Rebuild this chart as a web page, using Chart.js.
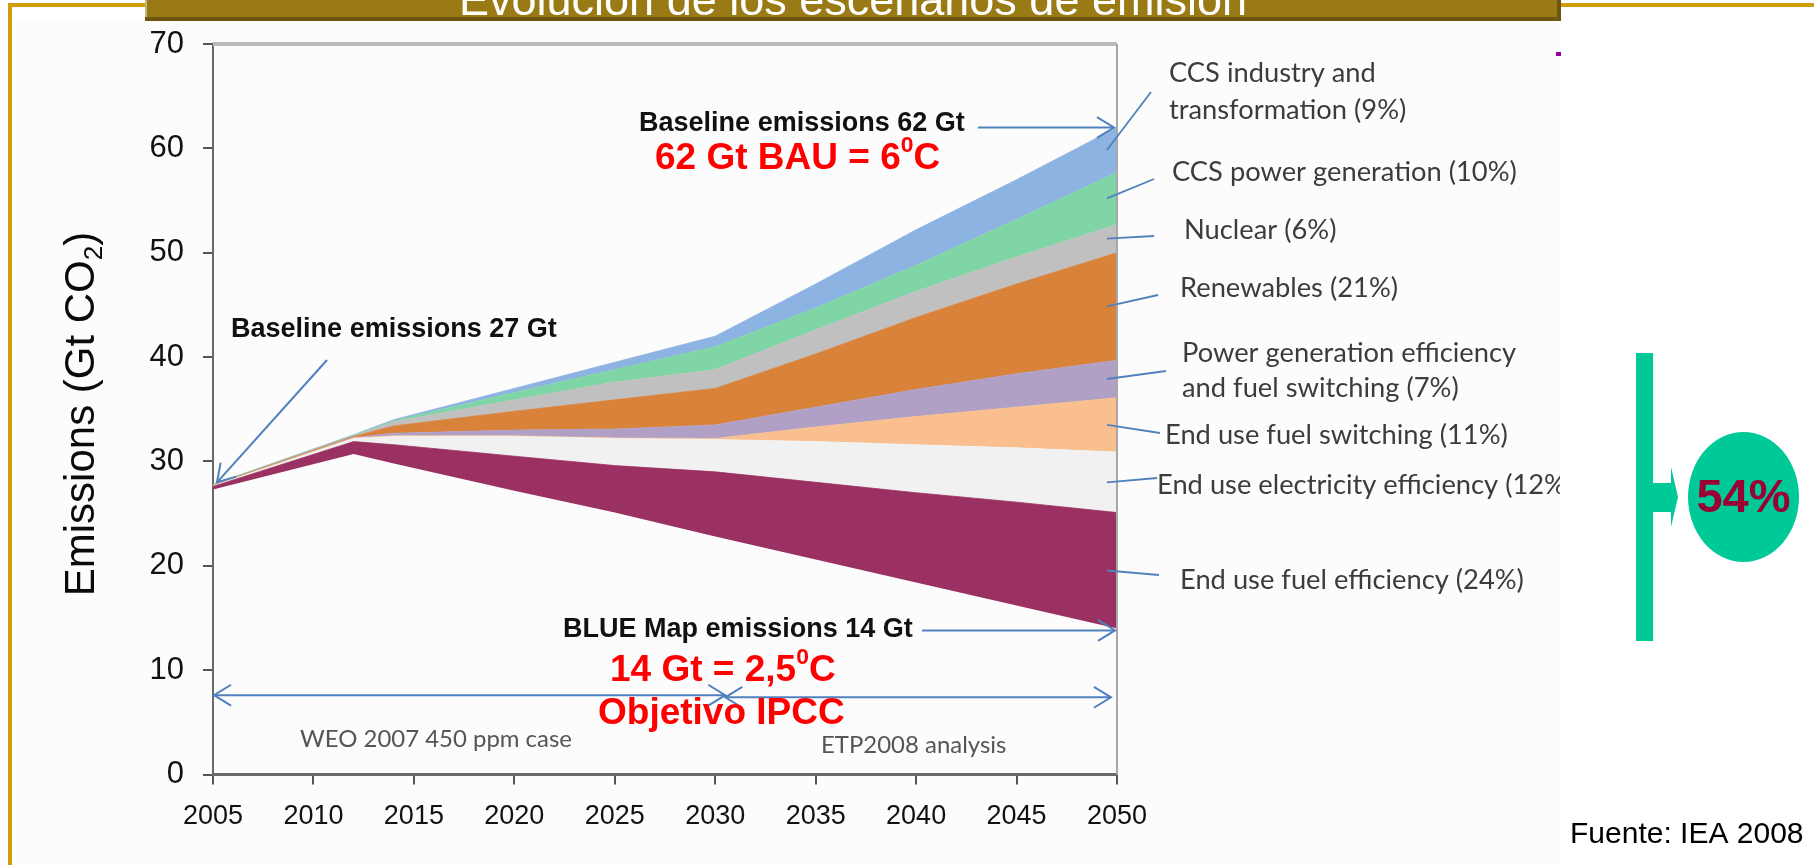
<!DOCTYPE html>
<html>
<head>
<meta charset="utf-8">
<title>Evolución de los escenarios de emisión</title>
<script src="https://cdn.jsdelivr.net/npm/chart.js@4.4.1/dist/chart.umd.min.js"></script>
<style>
  html, body { margin: 0; padding: 0; background: #fff; }
  #wrap { position: relative; width: 1814px; height: 865px; }
</style>
</head>
<body>
<div id="wrap"><canvas id="chart" width="1814" height="865"></canvas></div>
<script>
// Years and the upper edge of each wedge (Gt CO2)
const years       = [2005, 2012, 2014, 2020, 2025, 2030, 2035, 2040, 2045, 2050];
const blueMap     = [27.3, 30.7, 29.8, 27.2, 25.1, 22.8, 20.6, 18.4, 16.2, 14.0];
const fuelEff     = [27.6, 31.9, 31.6, 30.5, 29.6, 29.0, 28.0, 27.0, 26.1, 25.1];
const elecEff     = [27.65, 32.2, 32.4, 32.4, 32.2, 32.1, 31.9, 31.6, 31.3, 30.9];
const fuelSwitch  = [27.7, 32.25, 32.45, 32.45, 32.25, 32.2, 33.3, 34.3, 35.2, 36.1];
const powerEff    = [27.7, 32.3, 32.7, 33.0, 33.1, 33.5, 35.2, 36.9, 38.4, 39.7];
const renewables  = [27.75, 32.4, 33.4, 34.8, 35.9, 37.0, 40.3, 43.8, 47.0, 50.0];
const nuclear     = [27.75, 32.45, 33.8, 35.9, 37.6, 38.8, 42.6, 46.3, 49.6, 52.7];
const ccsPower    = [27.8, 32.5, 33.9, 36.6, 38.8, 41.0, 44.7, 48.8, 53.2, 57.7];
const ccsIndustry = [27.8, 32.55, 34.0, 37.0, 39.5, 42.0, 47.0, 52.2, 57.0, 62.0];

const xTicks = [2005, 2010, 2015, 2020, 2025, 2030, 2035, 2040, 2045, 2050];
const yTicks = [0, 10, 20, 30, 40, 50, 60, 70];

const bandNames = ['BLUE Map', 'End use fuel efficiency', 'End use electricity efficiency',
  'End use fuel switching', 'Power generation efficiency and fuel switching', 'Renewables',
  'Nuclear', 'CCS power generation', 'CCS industry and transformation'];
const bandColors = [null, '#9a3162', '#f1f1f1', '#f9bf8e', '#b1a0c6', '#d9823a',
  '#c0c0c0', '#80d5a7', '#8db3e2'];
const bounds = [blueMap, fuelEff, elecEff, fuelSwitch, powerEff, renewables, nuclear, ccsPower, ccsIndustry];

// right-hand wedge labels (top to bottom, same order as the leader lines)
const wedgeLabels = [
  ['CCS industry and', 'transformation (9%)'],
  ['CCS power generation (10%)'],
  ['Nuclear (6%)'],
  ['Renewables (21%)'],
  ['Power generation efficiency', 'and fuel switching (7%)'],
  ['End use fuel switching (11%)'],
  ['End use electricity efficiency (12%)'],
  ['End use fuel efficiency (24%)']
];

const SANS = '"Liberation Sans", Arial, sans-serif';
const CALI = 'Lato, "Open Sans", sans-serif';
const ARROW = '#4f81bd';

function line(ctx, x1, y1, x2, y2) {
  ctx.beginPath();
  ctx.moveTo(x1, y1);
  ctx.lineTo(x2, y2);
  ctx.stroke();
}

// open "V" head at (x, y) for a shaft coming from (fx, fy)
function head(ctx, x, y, fx, fy, len = 16) {
  const a = Math.atan2(y - fy, x - fx);
  ctx.beginPath();
  ctx.moveTo(x - len * Math.cos(a - 0.55), y - len * Math.sin(a - 0.55));
  ctx.lineTo(x, y);
  ctx.lineTo(x - len * Math.cos(a + 0.55), y - len * Math.sin(a + 0.55));
  ctx.stroke();
}

function fitSize(ctx, text, weight, family, width) {
  ctx.font = `${weight} 100px ${family}`;
  return 100 * width / ctx.measureText(text).width;
}

// text with super/subscript pieces: parts = [[text, 'sup'|'sub'|undefined], ...]
function richWidth(ctx, parts, size, weight, family) {
  let w = 0;
  parts.forEach(([t, kind]) => {
    ctx.font = `${weight} ${kind ? size * 0.62 : size}px ${family}`;
    w += ctx.measureText(t).width;
  });
  return w;
}

function richText(ctx, parts, x, y, size, weight, family) {
  let cx = x;
  parts.forEach(([t, kind]) => {
    const s = kind ? size * 0.62 : size;
    const dy = kind === 'sup' ? -size * 0.36 : kind === 'sub' ? size * 0.2 : 0;
    ctx.font = `${weight} ${s}px ${family}`;
    ctx.fillText(t, cx, y + dy);
    cx += ctx.measureText(t).width;
  });
}

const decorations = {
  id: 'decorations',
  beforeDraw(chart) {
    const ctx = chart.ctx;
    ctx.save();
    ctx.fillStyle = '#ffffff';
    ctx.fillRect(0, 0, chart.width, chart.height);
    ctx.fillStyle = '#fcfcfc';
    ctx.fillRect(12, 21, 1549, 844);
    ctx.restore();
  },
  afterDraw(chart) {
    const {ctx, chartArea: a, scales: {x, y}} = chart;
    ctx.save();

    // plot frame (top and right)
    ctx.strokeStyle = '#bababa';
    ctx.lineWidth = 4;
    line(ctx, a.left, a.top, a.right, a.top);
    ctx.strokeStyle = '#a8a8a8';
    ctx.lineWidth = 2;
    line(ctx, a.right, a.top, a.right, a.bottom);

    // y axis title
    ctx.save();
    ctx.translate(94, 414);
    ctx.rotate(-Math.PI / 2);
    ctx.fillStyle = '#0a0a0a';
    ctx.textBaseline = 'alphabetic';
    const tParts = [['Emissions (Gt CO'], ['2', 'sub'], [')']];
    const tSize = 42;
    const tw = richWidth(ctx, tParts, tSize, 'normal', SANS);
    richText(ctx, tParts, -tw / 2, 0, tSize, 'normal', SANS);
    ctx.restore();

    // arrows
    ctx.strokeStyle = ARROW;
    ctx.lineWidth = 2;
    const x05 = x.getPixelForValue(2005), x50 = x.getPixelForValue(2050);
    // baseline 27 Gt
    const tip27 = [x05 + 4, y.getPixelForValue(28)];
    line(ctx, 327, 360, tip27[0], tip27[1]);
    head(ctx, tip27[0], tip27[1], 327, 360, 20);
    // baseline 62 Gt
    const y62 = y.getPixelForValue(62);
    line(ctx, 978, y62, x50 - 3, y62);
    head(ctx, x50 - 3, y62, 978, y62, 20);
    // BLUE Map 14 Gt
    const y14 = y.getPixelForValue(14);
    line(ctx, 922, y14 + 2, x50 - 2, y14 + 2);
    head(ctx, x50 - 2, y14 + 2, 922, y14 + 2, 20);
    // WEO / ETP ranges
    const yR1 = y.getPixelForValue(7.6), yR2 = y.getPixelForValue(7.4);
    const xMid = x.getPixelForValue(2030.5), xEnd = x.getPixelForValue(2049.7);
    line(ctx, x05 + 1, yR1, xMid, yR1);
    head(ctx, x05 + 1, yR1, xMid, yR1, 20);
    head(ctx, xMid, yR1, x05, yR1, 20);
    line(ctx, xMid, yR2, xEnd, yR2);
    head(ctx, xMid, yR2, xEnd, yR2, 20);
    head(ctx, xEnd, yR2, xMid, yR2, 20);

    // leader lines from the wedges at 2050 to their labels
    const outer = [[1151, 92], [1154, 179], [1154, 236], [1158, 295], [1166, 371], [1160, 433], [1157, 478], [1159, 575]];
    const last = years.length - 1;
    const xIn = x.getPixelForValue(2049.5);
    ctx.lineWidth = 1.8;
    for (let i = 0; i < 8; i++) {
      const hi = bounds[8 - i][last], lo = bounds[7 - i][last];
      const yIn = y.getPixelForValue((hi + lo) / 2);
      line(ctx, xIn, yIn, outer[i][0], outer[i][1]);
    }

    // wedge labels (clipped at the picture edge)
    ctx.save();
    ctx.beginPath();
    ctx.rect(0, 0, 1560, chart.height);
    ctx.clip();
    const lSize = Math.min(31, fitSize(ctx, 'CCS power generation (10%)', 'normal', CALI, 345));
    ctx.font = `normal ${lSize}px ${CALI}`;
    ctx.fillStyle = '#3c3c3c';
    ctx.textBaseline = 'middle';
    ctx.textAlign = 'left';
    const lPos = [[1169, 73, 110], [1172, 172], [1184, 230], [1180, 288], [1182, 353, 388],
      [1165, 435], [1157, 485], [1180, 580]];
    wedgeLabels.forEach((rows, i) => {
      rows.forEach((r, k) => ctx.fillText(r, lPos[i][0], lPos[i][1 + k]));
    });
    ctx.restore();

    // black bold annotations
    const bSize = fitSize(ctx, 'Baseline emissions 62 Gt', 'bold', SANS, 326);
    ctx.font = `bold ${bSize}px ${SANS}`;
    ctx.fillStyle = '#111';
    ctx.textBaseline = 'middle';
    ctx.textAlign = 'left';
    ctx.fillText('Baseline emissions 27 Gt', 231, 330);
    ctx.fillText('Baseline emissions 62 Gt', 639, 124);
    ctx.fillText('BLUE Map emissions 14 Gt', 563, 630);

    // red annotations
    ctx.fillStyle = '#ff0000';
    const rSize = 37;
    richText(ctx, [['62 Gt BAU = 6'], ['0', 'sup'], ['C']], 655, 159, rSize, 'bold', SANS);
    richText(ctx, [['14 Gt = 2,5'], ['0', 'sup'], ['C']], 610, 671, rSize, 'bold', SANS);
    richText(ctx, [['Objetivo IPCC']], 598, 714, rSize, 'bold', SANS);

    // scenario names
    ctx.fillStyle = '#555';
    const gSize = fitSize(ctx, 'WEO 2007 450 ppm case', 'normal', CALI, 272);
    ctx.font = `normal ${gSize}px ${CALI}`;
    ctx.fillText('WEO 2007 450 ppm case', 300, 739);
    ctx.fillText('ETP2008 analysis', 821, 745);

    // 54 % bracket
    ctx.fillStyle = '#00c998';
    ctx.fillRect(1636, 353, 17, 288);
    ctx.fillRect(1652, 483, 20, 29);
    ctx.beginPath();
    ctx.moveTo(1671, 467);
    ctx.lineTo(1678, 497);
    ctx.lineTo(1671, 527);
    ctx.closePath();
    ctx.fill();
    ctx.beginPath();
    ctx.ellipse(1743.5, 497, 55.5, 65, 0, 0, Math.PI * 2);
    ctx.fill();
    ctx.fillStyle = '#990033';
    ctx.textAlign = 'center';
    ctx.font = `bold 47px ${SANS}`;
    ctx.fillText('54%', 1743.5, 499);

    // source
    ctx.fillStyle = '#000';
    ctx.textAlign = 'left';
    ctx.font = `normal 30px ${SANS}`;
    ctx.fillText('Fuente: IEA 2008', 1570, 835);

    // slide frame and title bar
    ctx.fillStyle = '#d09d0b';
    ctx.fillRect(8, 3, chart.width - 8, 4);
    ctx.fillRect(8, 3, 4, chart.height - 3);
    ctx.fillStyle = '#9a7a15';
    ctx.fillRect(145, 0, 1416, 17);
    ctx.fillStyle = '#6e5610';
    ctx.fillRect(145, 17, 1416, 4);
    ctx.fillRect(1557, 0, 4, 21);
    ctx.fillStyle = '#c8b67a';
    ctx.fillRect(145, 0, 2, 17);
    ctx.save();
    ctx.beginPath();
    ctx.rect(147, 0, 1410, 17);
    ctx.clip();
    ctx.fillStyle = '#ffffff';
    ctx.textAlign = 'center';
    ctx.textBaseline = 'alphabetic';
    ctx.font = `normal 45px ${SANS}`;
    ctx.fillText('Evolución de los escenarios de emisión', 853, 15);
    ctx.restore();

    ctx.fillStyle = '#990099';
    ctx.fillRect(1556, 52, 5, 4);

    ctx.restore();
  }
};

const ctx = document.getElementById('chart').getContext('2d');
new Chart(ctx, {
  type: 'line',
  data: {
    datasets: bounds.map((vals, i) => ({
      label: bandNames[i],
      data: years.map((yr, j) => ({x: yr, y: vals[j]})),
      fill: i === 0 ? false : '-1',
      backgroundColor: bandColors[i] || 'transparent',
      borderColor: bandColors[i] || 'transparent',
      borderWidth: i === 0 ? 0 : 0.8,
      pointRadius: 0,
      tension: 0
    }))
  },
  options: {
    responsive: false,
    animation: false,
    events: [],
    layout: { padding: { left: 0, right: 697, top: 44, bottom: 0 } },
    plugins: { legend: { display: false }, tooltip: { enabled: false } },
    scales: {
      x: {
        type: 'linear', min: 2005, max: 2050,
        afterBuildTicks: axis => { axis.ticks = xTicks.map(v => ({value: v})); },
        afterFit: axis => { axis.height = 90.5; },
        ticks: { callback: v => String(v), color: '#111', padding: 16, maxRotation: 0, autoSkip: false,
          font: { family: SANS, size: 27 } },
        grid: { drawOnChartArea: false, drawTicks: true, tickLength: 10, color: '#555', lineWidth: 2 },
        border: { display: true, color: '#6a6a6a', width: 3 }
      },
      y: {
        min: 0, max: 70,
        afterBuildTicks: axis => { axis.ticks = yTicks.map(v => ({value: v})); },
        afterFit: axis => { axis.width = 213; },
        ticks: { callback: v => String(v), color: '#111', padding: 19, font: { family: SANS, size: 31 } },
        grid: { drawOnChartArea: false, drawTicks: true, tickLength: 10, color: '#555', lineWidth: 2 },
        border: { display: true, color: '#6a6a6a', width: 2 }
      }
    }
  },
  plugins: [decorations]
});
</script>
</body>
</html>
